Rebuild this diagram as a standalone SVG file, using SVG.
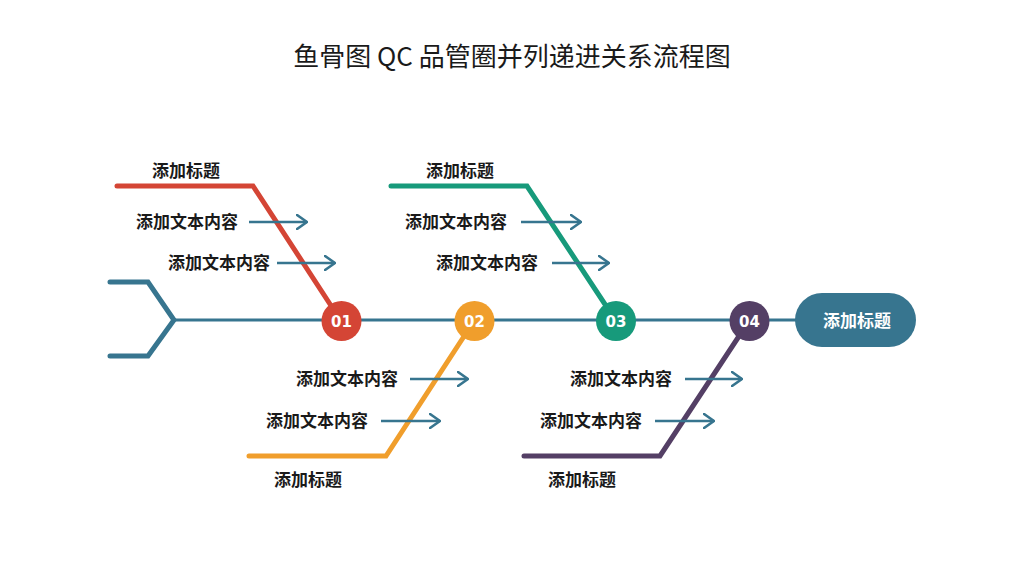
<svg xmlns="http://www.w3.org/2000/svg" width="1024" height="576" viewBox="0 0 1024 576">
<defs>
<marker id="ah" viewBox="0 0 12 16" refX="11" refY="8" markerWidth="12" markerHeight="16" markerUnits="userSpaceOnUse" orient="auto">
<path d="M1,1 L11,8 L1,15" fill="none" stroke="#37758f" stroke-width="2.6" stroke-linecap="round" stroke-linejoin="round"/>
</marker>
<style>
.t{font-family:"Noto Sans CJK SC","Noto Sans",sans-serif;font-weight:bold;font-size:17px;fill:#1a1a1a;}
.n{font-family:"DejaVu Sans","Noto Sans",sans-serif;font-weight:bold;font-size:15px;fill:#ffffff;text-anchor:middle;}
.bone{fill:none;stroke-width:5;stroke-linecap:round;stroke-linejoin:miter;}
.arr{stroke:#37758f;stroke-width:2.6;fill:none;marker-end:url(#ah);}
</style>
</defs>
<rect width="1024" height="576" fill="#ffffff"/>
<text x="512" y="66" text-anchor="middle" font-family="Noto Sans CJK SC, Noto Sans, sans-serif" font-size="26" fill="#1a1a1a">鱼骨图 QC 品管圈并列递进关系流程图</text>

<g id="connectors">
<line x1="174" y1="320" x2="800" y2="320" stroke="#37758f" stroke-width="3"/>
<polyline class="bone" stroke="#37758f" points="110,282 148,282 174,320 148,356 110,356"/>
<polyline class="bone" stroke="#d44535" points="117,186 253,186 341,321"/>
<polyline class="bone" stroke="#f09e2c" points="474,321 386,456 249,456"/>
<polyline class="bone" stroke="#179a7b" points="391,186 527,186 616,321"/>
<polyline class="bone" stroke="#543f65" points="749,321 660,456 524,456"/>
<line class="arr" x1="249" y1="222" x2="307" y2="222"/>
<line class="arr" x1="277" y1="263" x2="335" y2="263"/>
<line class="arr" x1="410" y1="379" x2="468" y2="379"/>
<line class="arr" x1="381" y1="421" x2="440" y2="421"/>
<line class="arr" x1="521" y1="222" x2="581" y2="222"/>
<line class="arr" x1="552" y1="263" x2="609" y2="263"/>
<line class="arr" x1="685" y1="379" x2="742" y2="379"/>
<line class="arr" x1="655" y1="421" x2="714" y2="421"/>
</g>

<g id="node-01">
<circle cx="341.5" cy="321" r="20" fill="#d44535"/>
<text class="n" x="341.5" y="326.5">01</text>
<text class="t" x="152" y="177">添加标题</text>
<text class="t" x="136" y="228">添加文本内容</text>
<text class="t" x="168" y="269">添加文本内容</text>
</g>
<g id="node-02">
<circle cx="474.5" cy="321" r="20" fill="#f09e2c"/>
<text class="n" x="474.5" y="326.5">02</text>
<text class="t" x="274" y="486">添加标题</text>
<text class="t" x="296" y="385">添加文本内容</text>
<text class="t" x="266" y="427">添加文本内容</text>
</g>
<g id="node-03">
<circle cx="616" cy="321" r="20" fill="#179a7b"/>
<text class="n" x="616" y="326.5">03</text>
<text class="t" x="426" y="177">添加标题</text>
<text class="t" x="405" y="228">添加文本内容</text>
<text class="t" x="436" y="269">添加文本内容</text>
</g>
<g id="node-04">
<circle cx="749.5" cy="321" r="20" fill="#543f65"/>
<text class="n" x="749.5" y="326.5">04</text>
<text class="t" x="548" y="486">添加标题</text>
<text class="t" x="570" y="385">添加文本内容</text>
<text class="t" x="540" y="427">添加文本内容</text>
</g>
<g id="node-head">
<rect x="795" y="293" width="121" height="54" rx="27" fill="#37758f"/>
<text class="t" x="857" y="327" text-anchor="middle" style="fill:#ffffff">添加标题</text>
</g>
</svg>
